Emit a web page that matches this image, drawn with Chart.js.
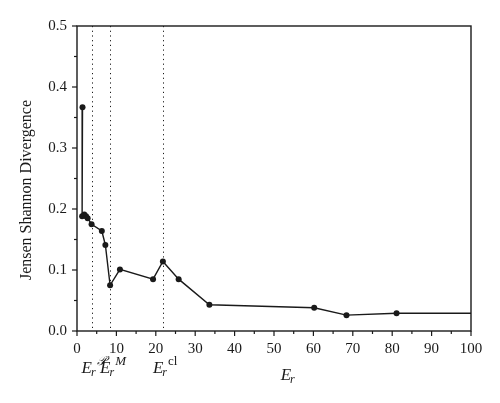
<!DOCTYPE html>
<html>
<head>
<meta charset="utf-8">
<script src="https://cdn.jsdelivr.net/npm/chart.js@4.4.1/dist/chart.umd.min.js"></script>
<style>
  html, body { margin: 0; padding: 0; background: #fff; }
  #wrap { width: 500px; height: 403px; }
</style>
</head>
<body>
<div id="wrap"><canvas id="jsd"></canvas></div>
<script>
// E_r values and the divergence
const energyX = [1.4, 1.3, 1.85, 2.3, 2.7, 3.7, 6.3, 7.2, 8.4, 10.9, 19.3, 21.8, 25.8, 33.6, 60.2, 68.4, 81.1, 100];
const jsdY = [0.367, 0.188, 0.191, 0.188, 0.185, 0.175, 0.164, 0.141, 0.075, 0.101, 0.085, 0.114, 0.085, 0.043, 0.038, 0.026, 0.029, 0.029];

// dotted reference energies and their superscripts
const markerX = [3.7, 8.4, 21.8];
const markerSup = ['\u{1D4AB}', 'M', 'cl'];

const serif = "'Liberation Serif', 'DejaVu Serif', serif";
const ink = '#1a1a1a';

const extras = {
	id: 'extras',
	beforeDatasetsDraw(chart) {
		const { ctx, chartArea: a, scales: { x } } = chart;
		ctx.save();
		ctx.strokeStyle = ink;
		ctx.lineWidth = 1;
		ctx.setLineDash([1.2, 3.5]);
		markerX.forEach(v => {
			const px = Math.round(x.getPixelForValue(v)) + 0.5;
			ctx.beginPath();
			ctx.moveTo(px, a.top);
			ctx.lineTo(px, a.bottom);
			ctx.stroke();
		});
		ctx.restore();
	},
	afterDraw(chart) {
		const { ctx, chartArea: a, scales: { x, y } } = chart;
		ctx.save();
		ctx.strokeStyle = ink;
		ctx.lineWidth = 1.4;
		ctx.strokeRect(a.left, a.top, a.right - a.left, a.bottom - a.top);

		// major / minor tick marks, outward
		ctx.lineWidth = 1.2;
		x.ticks.forEach(t => {
			const px = x.getPixelForValue(t.value);
			const len = t.value % 10 === 0 ? 5 : 3;
			ctx.beginPath();
			ctx.moveTo(px, a.bottom);
			ctx.lineTo(px, a.bottom + len);
			ctx.stroke();
		});
		y.ticks.forEach(t => {
			const py = y.getPixelForValue(t.value);
			const len = Math.round(t.value * 100) % 10 === 0 ? 5 : 3;
			ctx.beginPath();
			ctx.moveTo(a.left, py);
			ctx.lineTo(a.left - len, py);
			ctx.stroke();
		});

		ctx.fillStyle = ink;
		ctx.textBaseline = 'alphabetic';

		// E_r with superscripts under the dotted lines
		markerX.forEach((v, i) => {
			let px = x.getPixelForValue(v) - 10;
			const base = a.bottom + 42;
			ctx.font = 'italic 17px ' + serif;
			ctx.fillText('E', px, base);
			px += ctx.measureText('E').width - 1;
			ctx.font = 'italic 12px ' + serif;
			ctx.fillText('r', px, base + 3);
			px += ctx.measureText('r').width + 1;
			ctx.font = (markerSup[i] === 'cl' ? '' : 'italic ') + '13px ' + serif;
			ctx.fillText(markerSup[i], px, base - 8);
		});

		// x axis title
		ctx.font = 'italic 17px ' + serif;
		const ew = ctx.measureText('E').width;
		let tx = x.getPixelForValue(53) - ew / 2;
		ctx.fillText('E', tx, a.bottom + 49);
		ctx.font = 'italic 12px ' + serif;
		ctx.fillText('r', tx + ew - 1, a.bottom + 52);

		// y axis title
		ctx.translate(27, 190);
		ctx.rotate(-Math.PI / 2);
		ctx.font = '16px ' + serif;
		ctx.textAlign = 'center';
		ctx.textBaseline = 'middle';
		ctx.fillText('Jensen Shannon Divergence', 0, 0);
		ctx.restore();
	}
};

const ctx = document.getElementById('jsd').getContext('2d');
new Chart(ctx, {
	type: 'line',
	data: {
		datasets: [{
			data: energyX.map((v, i) => ({ x: v, y: jsdY[i] })),
			borderColor: ink,
			borderWidth: 1.4,
			backgroundColor: ink,
			pointBackgroundColor: ink,
			pointBorderWidth: 0,
			pointRadius: c => (c.dataIndex === energyX.length - 1 ? 0 : 3),
			tension: 0,
			fill: false
		}]
	},
	options: {
		responsive: true,
		maintainAspectRatio: false,
		animation: false,
		layout: { padding: { top: 26, right: 29, left: 0, bottom: 0 } },
		plugins: { legend: { display: false }, tooltip: { enabled: false } },
		scales: {
			x: {
				type: 'linear',
				min: 0,
				max: 100,
				afterFit: s => { s.height = 72; },
				grid: { display: false, drawTicks: false },
				border: { display: false },
				ticks: {
					stepSize: 5,
					autoSkip: false,
					maxRotation: 0,
					padding: 9,
					color: ink,
					font: { family: serif, size: 15 },
					callback: v => (v % 10 === 0 ? String(v) : '')
				}
			},
			y: {
				min: 0,
				max: 0.5,
				afterFit: s => { s.width = 77; },
				grid: { display: false, drawTicks: false },
				border: { display: false },
				ticks: {
					stepSize: 0.05,
					autoSkip: false,
					padding: 10,
					color: ink,
					font: { family: serif, size: 15 },
					callback: v => (Math.round(v * 100) % 10 === 0 ? v.toFixed(1) : '')
				}
			}
		}
	},
	plugins: [extras]
});
</script>
</body>
</html>
